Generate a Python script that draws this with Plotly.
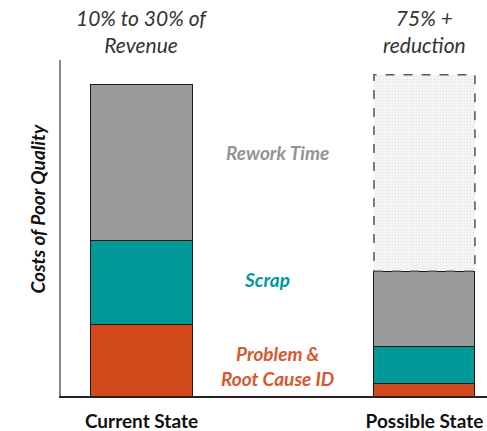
import plotly.graph_objects as go

# Stacked cost-of-poor-quality components per state
states = ["Current State", "Possible State"]
problem_root_cause = [23, 4]
scrap = [27, 12]
rework_time = [50, 24]
# Level of the dashed outline drawn above the reduced bar
prior_level = 103

headlines = ["10% to 30% of<br>Revenue", "75% +<br>reduction"]
segment_labels = ["Problem &<br>Root Cause ID", "Scrap", "Rework Time"]

ORANGE = "#d2491a"
TEAL = "#009999"
GRAY = "#9a9a9a"
FONT = "Lato"
BAR_W = 0.357

totals = [a + b + c for a, b, c in zip(problem_root_cause, scrap, rework_time)]
gap_above = [0, prior_level - totals[1]]

fig = go.Figure()
for name, vals, col in [
    ("Problem & Root Cause ID", problem_root_cause, ORANGE),
    ("Scrap", scrap, TEAL),
    ("Rework Time", rework_time, GRAY),
]:
    fig.add_trace(go.Bar(
        x=states, y=vals, name=name, width=BAR_W,
        marker=dict(color=col, line=dict(color="#1a1a1a", width=1)),
        hoverinfo="skip",
    ))

# Dotted fill of the eliminated portion
fig.add_trace(go.Bar(
    x=states, y=gap_above, name="Reduction", width=BAR_W,
    marker=dict(
        color="#f7f7f7",
        line=dict(width=0),
        pattern=dict(shape=".", fgcolor="#d8d8d8", bgcolor="#f7f7f7", size=3, solidity=0.3),
    ),
    hoverinfo="skip",
))

# Dashed outline of the eliminated portion
fig.add_shape(
    type="rect", xref="x", yref="y",
    x0=1 - BAR_W / 2, x1=1 + BAR_W / 2, y0=totals[1], y1=prior_level,
    line=dict(color="#555555", width=1.5, dash="dash"),
    fillcolor="rgba(0,0,0,0)", layer="above",
)

# Segment labels between the bars, at the current-state segment midpoints
bounds = [0, problem_root_cause[0], problem_root_cause[0] + scrap[0], totals[0]]
label_colors = ["#d4592c", TEAL, "#939393"]
label_x = [0.48, 0.445, 0.48]
offsets = [-2, 1, 3]
for i, (txt, col) in enumerate(zip(segment_labels, label_colors)):
    fig.add_annotation(
        x=label_x[i], y=(bounds[i] + bounds[i + 1]) / 2 + offsets[i], xref="x", yref="y",
        text=f"<b><i>{txt}</i></b>", showarrow=False,
        font=dict(family=FONT, size=19, color=col),
        yanchor="middle",
    )

# Headlines above each bar
for i, h in enumerate(headlines):
    fig.add_annotation(
        x=i, y=1 + (60 - 31) / 336, xref="x", yref="paper",
        text=f"<i>{h}</i>", showarrow=False,
        font=dict(family=FONT, size=21, color="#333333"),
        yanchor="middle",
    )

# Vertical axis title
fig.add_annotation(
    x=(23 - 61) / 426, y=(396 - 209) / 336, xref="paper", yref="paper",
    text="<b><i>Costs of Poor Quality</i></b>", showarrow=False, textangle=-90,
    font=dict(family=FONT, size=19, color="#111111"),
)

fig.update_layout(
    width=487, height=431,
    margin=dict(l=61, r=0, t=60, b=35),
    paper_bgcolor="white", plot_bgcolor="white",
    barmode="stack", showlegend=False,
    xaxis=dict(
        type="category", range=[-0.2845, 1.221],
        showline=True, linecolor="#222222", linewidth=1.5,
        showgrid=False, zeroline=False, ticks="",
        tickfont=dict(family=FONT, size=19, color="#111111"),
        tickprefix="<b>", ticksuffix="</b>",
        ticklabelstandoff=7,
    ),
    yaxis=dict(
        range=[0, 107.7], showline=True, linecolor="#888888", linewidth=1.5,
        showgrid=False, zeroline=False, showticklabels=False, ticks="",
    ),
)

fig.write_html("out.html")
